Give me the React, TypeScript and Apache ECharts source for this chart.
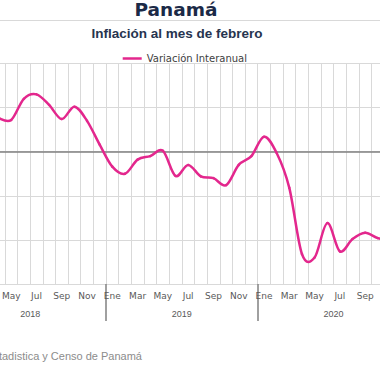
import React, { useEffect, useRef } from 'react';
import * as echarts from 'echarts';

const months = ['Ene', 'Feb', 'Mar', 'Abr', 'May', 'Jun', 'Jul', 'Ago', 'Sep', 'Oct', 'Nov', 'Dic'];
const years = ['2018', '2019', '2020'];
const values2018 = [null, null, null, 0.38, 0.36, 0.6, 0.65, 0.53, 0.37, 0.51, 0.35, 0.08];
const values2019 = [-0.17, -0.25, -0.09, -0.05, 0.01, -0.275, -0.15, -0.28, -0.3, -0.38, -0.15, -0.05];
const values2020 = [0.17, -0.015, -0.41, -1.16, -1.2, -0.81, -1.13, -0.99, -0.92, -0.98, -1.0, null];
const yMin = -1.5;
const yMax = 1.0;
const yInterval = 0.5;
const seriesName = 'Variación Interanual';

export default function App() {
  const ref = useRef<HTMLDivElement>(null);
  useEffect(() => {
    if (!ref.current) return;
    const chart = echarts.init(ref.current, null, { renderer: 'svg' });
    const categories = years.flatMap(() => months);
    const values: (number | null)[] = [...values2018, ...values2019, ...values2020];
    const pink = '#E3278D';
    const t = 1 / 6;
    chart.setOption({
      animation: false,
      backgroundColor: '#ffffff',
      grid: {
        left: -45.7,
        right: -29.4,
        top: 63.5,
        bottom: 96,
        containLabel: false,
        outerBoundsMode: 'none',
      },
      legend: {
        data: [{ name: seriesName, icon: 'rect', itemStyle: { color: pink } }],
        left: 117.7,
        top: 48.5,
        padding: 5,
        itemWidth: 19,
        itemHeight: 2.5,
        textStyle: { fontFamily: 'DejaVu Sans', fontSize: 10, color: '#404040' },
      },
      xAxis: [
        {
          type: 'category',
          data: categories,
          boundaryGap: true,
          position: 'bottom',
          axisLine: { show: true, lineStyle: { color: '#d9d9d9' } },
          axisTick: { show: false },
          axisLabel: { interval: 1, margin: 7, fontFamily: 'DejaVu Sans', fontSize: 9, color: '#595959' },
          splitLine: { show: true, interval: 0, lineStyle: { color: '#d9d9d9', width: 1 } },
        },
        {
          type: 'category',
          data: years,
          boundaryGap: true,
          position: 'bottom',
          axisLine: { show: false },
          axisTick: { show: true, interval: 0, length: 37, lineStyle: { color: '#808080', width: 1.5 } },
          axisLabel: { margin: 25.5, fontFamily: 'Liberation Sans', fontSize: 9, color: '#595959' },
          splitLine: { show: false },
        },
      ],
      yAxis: {
        type: 'value',
        min: yMin,
        max: yMax,
        interval: yInterval,
        axisLabel: { show: false },
        axisLine: { show: false },
        axisTick: { show: false },
        splitLine: { show: true, lineStyle: { color: '#d9d9d9', width: 1 } },
      },
      series: [
        {
          name: 'cero',
          type: 'line',
          xAxisIndex: 0,
          data: values,
          symbol: 'none',
          showSymbol: false,
          lineStyle: { opacity: 0, width: 0 },
          z: 1,
          markLine: {
            silent: true,
            symbol: ['none', 'none'],
            label: { show: false },
            lineStyle: { color: '#808080', width: 1.5, type: 'solid' },
            data: [{ yAxis: 0 }],
          },
        },
        {
          name: seriesName,
          type: 'custom',
          xAxisIndex: 0,
          z: 5,
          itemStyle: { color: pink },
          encode: { x: 0, y: 1 },
          data: values.map((v, i) => [i, v]),
          renderItem: (params: any, api: any) => {
            const i = params.dataIndex;
            const v = values;
            if (v[i] == null || i + 1 >= v.length || v[i + 1] == null) return null;
            const p1 = api.coord([i, v[i]]);
            const p2 = api.coord([i + 1, v[i + 1]]);
            const p0 = i - 1 >= 0 && v[i - 1] != null ? api.coord([i - 1, v[i - 1]]) : p1;
            const p3 = i + 2 < v.length && v[i + 2] != null ? api.coord([i + 2, v[i + 2]]) : p2;
            return {
              type: 'bezierCurve',
              shape: {
                x1: p1[0],
                y1: p1[1],
                x2: p2[0],
                y2: p2[1],
                cpx1: p1[0] + (p2[0] - p0[0]) * t,
                cpy1: p1[1] + (p2[1] - p0[1]) * t,
                cpx2: p2[0] - (p3[0] - p1[0]) * t,
                cpy2: p2[1] - (p3[1] - p1[1]) * t,
              },
              style: { stroke: pink, lineWidth: 2.5, fill: null, lineCap: 'round' },
            };
          },
        },
      ],
      graphic: [
        {
          type: 'text',
          x: 176,
          y: 9,
          style: {
            text: 'Panamá',
            fontFamily: 'DejaVu Sans',
            fontWeight: 'bold',
            fontSize: 18.5,
            fill: '#1B2A47',
            textAlign: 'center',
            textVerticalAlign: 'middle',
          },
        },
        {
          type: 'line',
          shape: { x1: 0, y1: 20.5, x2: 380, y2: 20.5 },
          style: { stroke: '#d9d9d9', lineWidth: 1 },
        },
        {
          type: 'text',
          x: 177,
          y: 33.7,
          style: {
            text: 'Inflación al mes de febrero',
            fontFamily: 'Liberation Sans',
            fontWeight: 'bold',
            fontSize: 13.5,
            fill: '#26344F',
            textAlign: 'center',
            textVerticalAlign: 'middle',
          },
        },
        {
          type: 'text',
          x: 142,
          y: 356,
          style: {
            text: 'Fuente: Instituto Nacional de Estadistica y Censo de Panamá',
            fontFamily: 'Liberation Sans',
            fontSize: 11,
            fill: '#8c8c8c',
            textAlign: 'right',
            textVerticalAlign: 'middle',
          },
        },
      ],
    });
    return () => chart.dispose();
  }, []);
  return (
    <div
      ref={ref}
      style={{ position: 'absolute', left: 0, top: 0, width: 380, height: 380, overflow: 'hidden' }}
    />
  );
}
